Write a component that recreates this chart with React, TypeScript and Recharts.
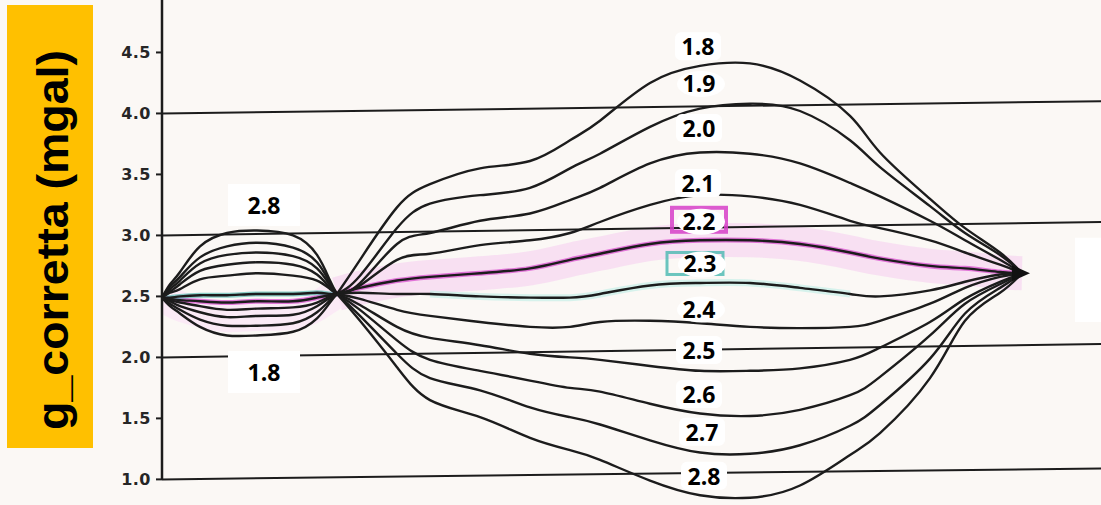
import { LineChart, Line, XAxis, YAxis, ReferenceLine, ReferenceDot, ReferenceArea } from 'recharts';

// distance along profile (arbitrary units), g corrected in mgal
const Y_TICKS = [1.0, 1.5, 2.0, 2.5, 3.0, 3.5, 4.0, 4.5];

// horizontal guide lines (scan is slightly tilted, so right end sits a bit higher)
const GRID_LEFT = [1.0, 2.0, 3.0, 4.0];
const GRID_RIGHT = [1.09, 2.11, 3.11, 4.1];

// small bump on the left
const LEFT_X = [0, 8, 18, 38, 65, 95, 131, 155, 168, 175];
const LEFT_28 = [2.49, 2.6, 2.7, 2.91, 3.02, 3.04, 3.0, 2.84, 2.63, 2.52];
const LEFT_27 = [2.49, 2.58, 2.66, 2.82, 2.91, 2.94, 2.9, 2.78, 2.61, 2.52];
const LEFT_26 = [2.49, 2.56, 2.63, 2.77, 2.84, 2.86, 2.83, 2.73, 2.59, 2.52];
const LEFT_25 = [2.49, 2.54, 2.6, 2.71, 2.76, 2.78, 2.76, 2.68, 2.57, 2.52];
const LEFT_24 = [2.49, 2.53, 2.56, 2.64, 2.67, 2.69, 2.67, 2.63, 2.56, 2.52];
const LEFT_23 = [2.49, 2.49, 2.5, 2.51, 2.51, 2.52, 2.52, 2.53, 2.52, 2.52];
const LEFT_22 = [2.49, 2.48, 2.47, 2.46, 2.45, 2.46, 2.46, 2.49, 2.51, 2.52];
const LEFT_21 = [2.49, 2.47, 2.45, 2.42, 2.39, 2.4, 2.41, 2.45, 2.5, 2.52];
const LEFT_20 = [2.49, 2.46, 2.42, 2.37, 2.33, 2.34, 2.35, 2.42, 2.49, 2.52];
const LEFT_19 = [2.49, 2.44, 2.39, 2.31, 2.26, 2.26, 2.28, 2.37, 2.47, 2.52];
const LEFT_18 = [2.49, 2.42, 2.36, 2.25, 2.18, 2.18, 2.21, 2.32, 2.45, 2.52];

// big body on the right
const RIGHT_X = [175, 198, 235, 268, 318, 368, 408, 438, 488, 538, 588, 638, 688, 718, 768, 803, 838, 860];
const RIGHT_18 = [2.52, 2.8, 3.23, 3.42, 3.55, 3.61, 3.78, 3.94, 4.25, 4.39, 4.41, 4.27, 3.98, 3.68, 3.3, 3.06, 2.86, 2.69];
const RIGHT_19 = [2.52, 2.67, 3.06, 3.26, 3.33, 3.39, 3.55, 3.67, 3.89, 4.04, 4.08, 4.02, 3.78, 3.56, 3.24, 3.02, 2.84, 2.69];
const RIGHT_20 = [2.52, 2.61, 2.93, 3.02, 3.12, 3.18, 3.29, 3.39, 3.59, 3.68, 3.67, 3.59, 3.43, 3.32, 3.12, 2.96, 2.8, 2.69];
const RIGHT_21 = [2.52, 2.59, 2.8, 2.85, 2.92, 2.96, 3.02, 3.11, 3.25, 3.33, 3.32, 3.25, 3.12, 3.06, 2.96, 2.86, 2.76, 2.69];
const RIGHT_22 = [2.52, 2.57, 2.63, 2.66, 2.69, 2.73, 2.8, 2.85, 2.93, 2.96, 2.96, 2.93, 2.86, 2.81, 2.75, 2.73, 2.7, 2.69];
const RIGHT_23 = [2.52, 2.53, 2.52, 2.52, 2.5, 2.49, 2.49, 2.52, 2.59, 2.61, 2.61, 2.57, 2.52, 2.5, 2.55, 2.62, 2.68, 2.69];
const RIGHT_24 = [2.52, 2.48, 2.39, 2.34, 2.29, 2.25, 2.25, 2.29, 2.3, 2.28, 2.25, 2.24, 2.25, 2.3, 2.44, 2.57, 2.66, 2.69];
const RIGHT_25 = [2.52, 2.43, 2.25, 2.16, 2.1, 2.03, 2.0, 1.98, 1.93, 1.89, 1.89, 1.91, 1.98, 2.08, 2.29, 2.48, 2.62, 2.69];
const RIGHT_26 = [2.52, 2.39, 2.14, 1.98, 1.89, 1.81, 1.75, 1.72, 1.62, 1.54, 1.52, 1.57, 1.69, 1.84, 2.18, 2.44, 2.6, 2.69];
const RIGHT_27 = [2.52, 2.34, 2.03, 1.83, 1.73, 1.59, 1.51, 1.45, 1.32, 1.22, 1.21, 1.28, 1.44, 1.61, 1.99, 2.36, 2.57, 2.69];
const RIGHT_28 = [2.52, 2.3, 1.92, 1.65, 1.51, 1.34, 1.24, 1.16, 0.99, 0.87, 0.85, 0.95, 1.2, 1.38, 1.83, 2.3, 2.53, 2.69];

// density labels
const RIGHT_LABELS = ['1.8', '1.9', '2.0', '2.1', '2.2', '2.3', '2.4', '2.5', '2.6', '2.7', '2.8'];
const RIGHT_LABEL_X = [536, 537, 537, 536, 537, 538, 537, 537, 537, 540, 542];
const RIGHT_LABEL_Y = [4.55, 4.25, 3.88, 3.43, 3.12, 2.77, 2.4, 2.06, 1.7, 1.39, 1.03];
const LEFT_LABELS = ['2.8', '1.8'];
const LEFT_LABEL_X = [102, 102];
const LEFT_LABEL_Y = [3.25, 1.88];

const LEFT_SERIES = [LEFT_28, LEFT_27, LEFT_26, LEFT_25, LEFT_24, LEFT_23, LEFT_22, LEFT_21, LEFT_20, LEFT_19, LEFT_18];
const RIGHT_SERIES = [RIGHT_18, RIGHT_19, RIGHT_20, RIGHT_21, RIGHT_22, RIGHT_23, RIGHT_24, RIGHT_25, RIGHT_26, RIGHT_27, RIGHT_28];

const toPoints = (xs: number[], ys: number[]) => xs.map((x, i) => ({ x, y: ys[i] }));

const INK = '#1c1c1c';
const CURVE = 'natural' as const;

function LabelShape(props: any) {
  const { cx, cy, text, kind } = props;
  if (cx == null || cy == null) return null;
  return (
    <g>
      {kind === 'magenta' && (
        <rect x={cx - 27} y={cy - 13} width={54} height={24} fill="none" stroke="#d640c8" strokeWidth={4} opacity={0.85} />
      )}
      {kind === 'cyan' && (
        <rect x={cx - 33} y={cy - 11} width={56} height={22} fill="none" stroke="#47b8b0" strokeWidth={3} opacity={0.8} />
      )}
      {kind === 'ellipse' || kind === 'magenta' || kind === 'cyan' ? (
        <ellipse cx={cx + 2} cy={cy + 1} rx={24} ry={13} fill="#ffffff" />
      ) : kind === 'big' ? (
        <rect x={cx - 36} y={cy - 21} width={72} height={42} fill="#ffffff" />
      ) : (
        <rect x={cx - 23} y={cy - 14} width={46} height={28} rx={6} fill="#ffffff" />
      )}
      <text
        x={cx}
        y={cy}
        textAnchor="middle"
        dominantBaseline="central"
        fontFamily="'Open Sans', 'Noto Sans', sans-serif"
        fontWeight={700}
        fontSize={23}
        fill="#000"
      >
        {text}
      </text>
    </g>
  );
}

function TipShape(props: any) {
  const { cx, cy } = props;
  if (cx == null || cy == null) return null;
  return <polygon points={`${cx - 10},${cy - 8} ${cx + 8},${cy} ${cx - 10},${cy + 8}`} fill="#111" />;
}

export default function App() {
  const leftData = LEFT_SERIES.map(s => toPoints(LEFT_X, s));
  const rightData = RIGHT_SERIES.map(s => toPoints(RIGHT_X, s));

  const labelKind = (t: string) => {
    if (t === '2.2') return 'magenta';
    if (t === '2.3') return 'cyan';
    if (t === '1.9' || t === '2.4') return 'ellipse';
    return 'rect';
  };

  return (
    <div style={{ position: 'absolute', left: 0, top: 0, width: 1101, height: 505, background: '#fbf8f5', overflow: 'hidden' }}>
      <LineChart width={1101} height={505} margin={{ top: 0, right: 0, bottom: 0, left: 0 }}>
        <XAxis type="number" dataKey="x" domain={[0, 939]} allowDataOverflow hide />
        <YAxis
          type="number"
          domain={[0.79, 4.93]}
          allowDataOverflow
          ticks={Y_TICKS}
          tickFormatter={(v: number) => v.toFixed(1)}
          width={162}
          axisLine={false}
          tickSize={6}
          tickMargin={5}
          tickLine={{ stroke: INK, strokeWidth: 2 }}
          tick={{ fill: '#262626', fontSize: 16, fontWeight: 700, fontFamily: 'DejaVu Sans', letterSpacing: 0.5 }}
        />

        <ReferenceArea x1={913} x2={939} y1={2.29} y2={2.98} fill="#ffffff" fillOpacity={1} stroke="none" ifOverflow="visible" />

        {/* pink highlight band and cyan trace */}
        <Line data={rightData[4]} dataKey="y" type={CURVE} dot={false} isAnimationActive={false} stroke="#f7d6f1" strokeWidth={34} strokeOpacity={0.7} />
        <Line data={leftData[8]} dataKey="y" type={CURVE} dot={false} isAnimationActive={false} stroke="#fbe6f6" strokeWidth={30} strokeOpacity={0.8} />
        <Line data={rightData[5].slice(3, 13)} dataKey="y" type={CURVE} dot={false} isAnimationActive={false} stroke="#c6efe8" strokeWidth={7} strokeOpacity={0.7} />
        <Line data={rightData[4]} dataKey="y" type={CURVE} dot={false} isAnimationActive={false} stroke="#d94fcf" strokeWidth={5} strokeOpacity={0.75} />
        <Line data={leftData[6]} dataKey="y" type={CURVE} dot={false} isAnimationActive={false} stroke="#d94fcf" strokeWidth={5} strokeOpacity={0.75} />
        <Line data={leftData[5]} dataKey="y" type={CURVE} dot={false} isAnimationActive={false} stroke="#3fb3a6" strokeWidth={5} strokeOpacity={0.6} />

        {GRID_LEFT.map((g, i) => (
          <ReferenceLine
            key={`grid-${g}`}
            segment={[{ x: 0, y: g }, { x: 939, y: GRID_RIGHT[i] }]}
            stroke={INK}
            strokeWidth={2}
            ifOverflow="visible"
          />
        ))}
        <ReferenceLine segment={[{ x: 0, y: 1.0 }, { x: 0, y: 4.93 }]} stroke={INK} strokeWidth={2.5} ifOverflow="visible" />

        {leftData.map((d, i) => (
          <Line key={`l-${i}`} data={d} dataKey="y" type={CURVE} dot={false} isAnimationActive={false} stroke={INK} strokeWidth={2.4} />
        ))}
        {rightData.map((d, i) => (
          <Line key={`r-${i}`} data={d} dataKey="y" type={CURVE} dot={false} isAnimationActive={false} stroke={INK} strokeWidth={2.4} />
        ))}

        <ReferenceDot x={RIGHT_X[RIGHT_X.length - 1]} y={RIGHT_22[RIGHT_22.length - 1]} r={6} shape={<TipShape />} ifOverflow="visible" />

        {RIGHT_LABELS.map((t, i) => (
          <ReferenceDot
            key={`rl-${t}`}
            x={RIGHT_LABEL_X[i]}
            y={RIGHT_LABEL_Y[i]}
            r={1}
            ifOverflow="visible"
            shape={(p: any) => <LabelShape {...p} text={t} kind={labelKind(t)} />}
          />
        ))}
        {LEFT_LABELS.map((t, i) => (
          <ReferenceDot
            key={`ll-${t}`}
            x={LEFT_LABEL_X[i]}
            y={LEFT_LABEL_Y[i]}
            r={1}
            ifOverflow="visible"
            shape={(p: any) => <LabelShape {...p} text={t} kind="big" />}
          />
        ))}
      </LineChart>

      <svg width={86} height={443} style={{ position: 'absolute', left: 7, top: 5 }}>
        <rect x={0} y={0} width={86} height={443} fill="#ffc000" />
        <text
          transform="translate(61,235) rotate(-90)"
          textAnchor="middle"
          fontFamily="'Liberation Sans', Arial, sans-serif"
          fontWeight={700}
          fontSize={44}
          textLength={380}
          lengthAdjust="spacingAndGlyphs"
          fill="#000"
        >
          g_corretta (mgal)
        </text>
      </svg>
    </div>
  );
}
